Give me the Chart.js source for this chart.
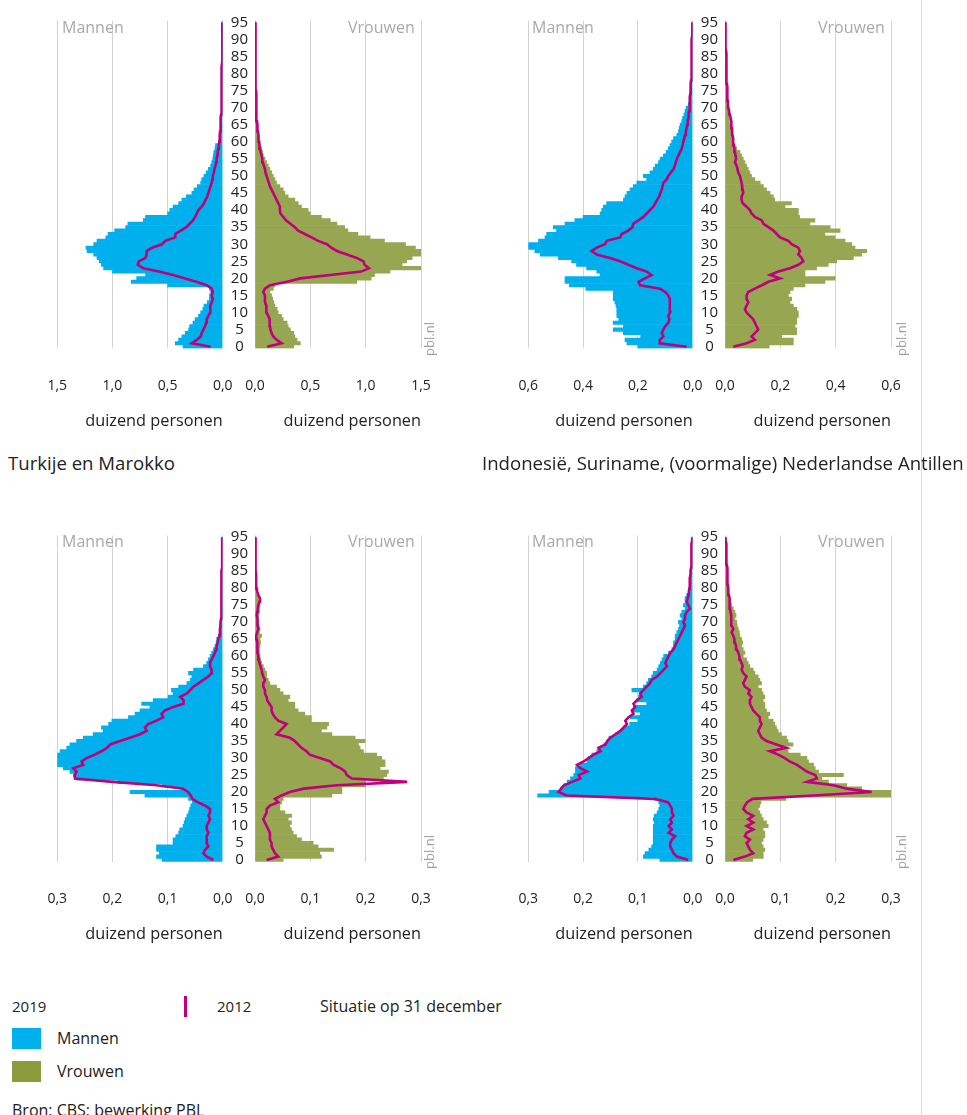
<!DOCTYPE html>
<html><head><meta charset="utf-8">
<script src="https://cdn.jsdelivr.net/npm/chart.js@4.4.1/dist/chart.umd.min.js"></script>
<style>
body{margin:0;width:967px;height:1115px;position:relative;overflow:hidden;background:#fff;font-family:"Open Sans",sans-serif;color:#222;}
.cv{position:absolute;}
.t{position:absolute;white-space:nowrap;line-height:20px;height:20px;}
.g{color:#a9a9a9;font-size:16px;}
.pbl{position:absolute;color:#a0a0a0;font-size:13px;line-height:14px;transform:rotate(-90deg);transform-origin:center center;white-space:nowrap;}
.sq{position:absolute;width:29px;height:21px;}
</style></head><body>
<div style="position:absolute;left:921px;top:0;width:1px;height:1115px;background:#dcdcdc;"></div>
<script>
// ---------- data (thousands of persons, ages 0..95) ----------
const ages = ['0','1','2','3','4','5','6','7','8','9','10','11','12','13','14','15','16','17','18','19','20','21','22','23','24','25','26','27','28','29','30','31','32','33','34','35','36','37','38','39','40','41','42','43','44','45','46','47','48','49','50','51','52','53','54','55','56','57','58','59','60','61','62','63','64','65','66','67','68','69','70','71','72','73','74','75','76','77','78','79','80','81','82','83','84','85','86','87','88','89','90','91','92','93','94','95'];
const ageTickLabels = ['0','5','10','15','20','25','30','35','40','45','50','55','60','65','70','75','80','85','90','95'];

// top-left panel
const tlMen2019 = [0.36,0.43,0.40,0.37,0.34,0.31,0.30,0.27,0.25,0.22, 0.20,0.18,0.17,0.14,0.12,0.12,0.11,0.12,0.50,0.83, 0.78,0.70,1.00,1.08,1.10,1.12,1.14,1.17,1.23,1.24, 1.17,1.14,1.06,1.04,0.98,0.88,0.86,0.72,0.70,0.50, 0.48,0.45,0.40,0.37,0.33,0.28,0.26,0.23,0.20,0.19, 0.17,0.15,0.13,0.11,0.10,0.09,0.085,0.08,0.07,0.065, 0.04,0.03,0.025,0.02,0.015,0.012,0.010,0.009,0.008,0.007, 0.006,0.005,0.005,0.004,0.004,0.004,0.003,0.003,0.003,0.003, 0.002,0.002,0.002,0.002,0.002,0.002,0.001,0.001,0.001,0.001, 0.001,0.001,0.001,0.001,0.001,0.001];
const tlMen2012 = [0.11,0.28,0.235,0.20,0.19,0.175,0.16,0.15,0.145,0.13, 0.115,0.115,0.11,0.10,0.09,0.10,0.09,0.10,0.145,0.24, 0.34,0.45,0.58,0.72,0.77,0.76,0.70,0.69,0.69,0.64, 0.55,0.52,0.43,0.43,0.38,0.33,0.30,0.27,0.25,0.235, 0.22,0.19,0.17,0.155,0.14,0.13,0.12,0.11,0.10,0.095, 0.09,0.08,0.075,0.065,0.06,0.055,0.05,0.045,0.04,0.035, 0.03,0.028,0.026,0.024,0.022,0.02,0.018,0.016,0.015,0.014, 0.013,0.012,0.012,0.011,0.011,0.010,0.010,0.009,0.009,0.008, 0.008,0.007,0.007,0.006,0.006,0.005,0.005,0.004,0.004,0.004, 0.003,0.003,0.003,0.002,0.002,0.002];
const tlWomen2019 = [0.35,0.41,0.38,0.36,0.35,0.32,0.30,0.29,0.255,0.24, 0.21,0.20,0.18,0.17,0.16,0.15,0.135,0.165,0.18,0.92, 1.05,1.08,1.22,1.51,1.33,1.37,1.42,1.55,1.51,1.45, 1.36,1.17,1.04,0.93,0.84,0.81,0.74,0.68,0.60,0.50, 0.48,0.42,0.39,0.36,0.30,0.27,0.255,0.225,0.195,0.18, 0.165,0.15,0.135,0.12,0.105,0.09,0.075,0.07,0.06,0.05, 0.045,0.038,0.03,0.025,0.02,0.015,0.012,0.010,0.009,0.008, 0.007,0.006,0.006,0.005,0.005,0.004,0.004,0.004,0.003,0.003, 0.003,0.003,0.002,0.002,0.002,0.002,0.002,0.001,0.001,0.001, 0.001,0.001,0.001,0.001,0.001,0.001];
const tlWomen2012 = [0.11,0.24,0.195,0.165,0.15,0.14,0.135,0.135,0.13,0.12, 0.105,0.105,0.10,0.09,0.09,0.09,0.075,0.09,0.135,0.29, 0.41,0.68,0.96,1.03,0.99,0.98,0.92,0.83,0.74,0.69, 0.65,0.57,0.51,0.45,0.39,0.36,0.32,0.28,0.255,0.23, 0.225,0.225,0.21,0.195,0.18,0.165,0.15,0.135,0.125,0.115, 0.105,0.095,0.09,0.08,0.07,0.066,0.06,0.05,0.045,0.04, 0.036,0.033,0.03,0.027,0.024,0.02,0.018,0.016,0.015,0.013, 0.012,0.011,0.011,0.010,0.010,0.009,0.009,0.008,0.008,0.007, 0.007,0.006,0.006,0.005,0.005,0.005,0.004,0.004,0.004,0.003, 0.003,0.003,0.003,0.002,0.002,0.002];

// top-right panel
const trMen2019 = [0.20,0.24,0.247,0.19,0.253,0.29,0.253,0.29,0.27,0.277, 0.277,0.277,0.28,0.284,0.29,0.29,0.29,0.39,0.45,0.466, 0.466,0.338,0.35,0.387,0.424,0.442,0.49,0.557,0.576,0.606, 0.60,0.563,0.539,0.533,0.497,0.509,0.466,0.43,0.40,0.338, 0.332,0.326,0.314,0.253,0.247,0.24,0.229,0.217,0.204,0.168, 0.18,0.156,0.144,0.137,0.125,0.119,0.107,0.097,0.089,0.083, 0.077,0.07,0.058,0.052,0.049,0.046,0.04,0.037,0.032,0.028, 0.024,0.016,0.010,0.009,0.008,0.007,0.006,0.005,0.005,0.004, 0.004,0.004,0.003,0.003,0.003,0.003,0.002,0.002,0.002,0.002, 0.002,0.001,0.001,0.001,0.001,0.001];
const trMen2012 = [0.022,0.12,0.12,0.107,0.113,0.107,0.10,0.089,0.085,0.089, 0.083,0.083,0.085,0.083,0.083,0.089,0.10,0.119,0.192,0.198, 0.174,0.15,0.168,0.204,0.235,0.265,0.302,0.35,0.369,0.35, 0.32,0.314,0.265,0.259,0.235,0.22,0.217,0.198,0.18,0.168, 0.156,0.144,0.137,0.13,0.122,0.118,0.113,0.11,0.107,0.095, 0.089,0.08,0.07,0.065,0.062,0.058,0.052,0.046,0.04,0.037, 0.034,0.031,0.028,0.025,0.022,0.02,0.018,0.016,0.015,0.013, 0.012,0.011,0.010,0.010,0.009,0.008,0.008,0.007,0.006,0.006, 0.005,0.005,0.005,0.004,0.004,0.004,0.004,0.003,0.003,0.003, 0.003,0.002,0.002,0.002,0.001,0.001];
const trWomen2019 = [0.16,0.247,0.247,0.205,0.259,0.259,0.253,0.259,0.259,0.265, 0.265,0.259,0.247,0.235,0.241,0.229,0.235,0.247,0.289,0.361, 0.398,0.289,0.289,0.331,0.373,0.404,0.464,0.494,0.512,0.47, 0.458,0.434,0.398,0.361,0.416,0.38,0.307,0.325,0.27,0.265, 0.265,0.217,0.24,0.18,0.175,0.163,0.15,0.139,0.127,0.108, 0.096,0.09,0.084,0.078,0.072,0.066,0.06,0.054,0.042,0.036, 0.03,0.028,0.026,0.024,0.021,0.018,0.016,0.014,0.012,0.010, 0.008,0.007,0.006,0.006,0.005,0.005,0.004,0.004,0.004,0.003, 0.003,0.003,0.003,0.002,0.002,0.002,0.002,0.002,0.001,0.001, 0.001,0.001,0.001,0.001,0.001,0.001];
const trWomen2012 = [0.03,0.078,0.108,0.096,0.108,0.12,0.114,0.108,0.102,0.09, 0.078,0.072,0.078,0.084,0.078,0.078,0.084,0.108,0.133,0.157, 0.199,0.163,0.193,0.235,0.265,0.283,0.277,0.265,0.271,0.265, 0.241,0.229,0.199,0.187,0.175,0.157,0.139,0.133,0.108,0.096, 0.09,0.078,0.064,0.06,0.06,0.066,0.064,0.062,0.06,0.057, 0.054,0.048,0.045,0.042,0.036,0.04,0.038,0.036,0.034,0.032, 0.03,0.029,0.027,0.026,0.025,0.024,0.022,0.02,0.018,0.015, 0.012,0.011,0.010,0.009,0.009,0.008,0.008,0.007,0.007,0.006, 0.006,0.005,0.005,0.005,0.004,0.004,0.004,0.003,0.003,0.003, 0.002,0.002,0.002,0.001,0.001,0.001];

// bottom-left panel: Turkije en Marokko
const blMen2019 = [0.11,0.12,0.115,0.12,0.12,0.09,0.09,0.085,0.08,0.078, 0.072,0.07,0.068,0.065,0.062,0.06,0.058,0.055,0.062,0.141, 0.168,0.075,0.11,0.19,0.265,0.271,0.277,0.289,0.307,0.316, 0.325,0.313,0.295,0.283,0.277,0.265,0.253,0.235,0.217,0.22, 0.207,0.201,0.171,0.159,0.15,0.132,0.147,0.126,0.099,0.09, 0.093,0.08,0.065,0.059,0.056,0.062,0.053,0.035,0.029,0.026, 0.023,0.02,0.017,0.014,0.012,0.011,0.008,0.005,0.004,0.004, 0.003,0.003,0.003,0.002,0.002,0.002,0.002,0.002,0.002,0.002, 0.001,0.001,0.001,0.001,0.001,0.001,0.001,0.001,0.001,0.001, 0.001,0.001,0.001,0.001,0.001,0.001];
const blMen2012 = [0.017,0.029,0.035,0.032,0.026,0.029,0.029,0.029,0.026,0.029, 0.029,0.026,0.023,0.026,0.023,0.023,0.032,0.045,0.055,0.058, 0.063,0.072,0.12,0.2,0.268,0.268,0.265,0.271,0.253,0.256, 0.247,0.232,0.22,0.21,0.204,0.186,0.168,0.15,0.138,0.141, 0.135,0.12,0.108,0.111,0.105,0.09,0.071,0.071,0.077,0.065, 0.059,0.053,0.044,0.035,0.026,0.02,0.02,0.023,0.023,0.02, 0.017,0.014,0.012,0.011,0.009,0.008,0.006,0.005,0.005,0.004, 0.004,0.003,0.003,0.003,0.003,0.003,0.002,0.002,0.002,0.002, 0.002,0.002,0.002,0.002,0.002,0.002,0.001,0.001,0.001,0.001, 0.001,0.001,0.001,0.001,0.001,0.001];
const blWomen2019 = [0.051,0.12,0.117,0.142,0.114,0.105,0.084,0.075,0.069,0.066, 0.063,0.066,0.06,0.066,0.054,0.045,0.045,0.048,0.051,0.139, 0.157,0.157,0.2,0.2,0.232,0.238,0.241,0.226,0.235,0.235, 0.229,0.22,0.196,0.19,0.187,0.199,0.181,0.139,0.12,0.13, 0.133,0.102,0.102,0.09,0.078,0.072,0.072,0.06,0.063,0.051, 0.045,0.039,0.027,0.024,0.021,0.021,0.018,0.015,0.012,0.01, 0.009,0.008,0.008,0.009,0.01,0.009,0.012,0.008,0.009,0.007, 0.006,0.006,0.007,0.008,0.008,0.009,0.009,0.006,0.005,0.004, 0.003,0.002,0.002,0.002,0.002,0.001,0.001,0.001,0.001,0.001, 0.001,0.001,0.001,0.001,0.001,0.001];
const blWomen2012 = [0.021,0.042,0.036,0.033,0.03,0.03,0.027,0.027,0.027,0.024, 0.021,0.018,0.015,0.018,0.021,0.021,0.027,0.042,0.036,0.048, 0.063,0.088,0.148,0.275,0.175,0.166,0.163,0.155,0.142,0.136, 0.117,0.099,0.093,0.084,0.078,0.072,0.063,0.039,0.045,0.051, 0.057,0.042,0.036,0.032,0.03,0.03,0.026,0.022,0.021,0.018, 0.018,0.015,0.015,0.018,0.015,0.013,0.012,0.01,0.008,0.007, 0.006,0.005,0.005,0.004,0.004,0.003,0.002,0.004,0.006,0.005, 0.005,0.004,0.003,0.004,0.005,0.006,0.008,0.009,0.006,0.004, 0.003,0.002,0.002,0.002,0.002,0.001,0.001,0.001,0.001,0.001, 0.001,0.001,0.001,0.001,0.001,0.001];

// bottom-right panel: Indonesie, Suriname, (voormalige) Nederlandse Antillen
const brMen2019 = [0.06,0.09,0.087,0.08,0.075,0.072,0.072,0.072,0.072,0.072, 0.072,0.07,0.072,0.07,0.065,0.062,0.06,0.062,0.07,0.283, 0.262,0.241,0.235,0.229,0.223,0.217,0.214,0.214,0.205,0.193, 0.19,0.184,0.175,0.168,0.162,0.156,0.153,0.141,0.132,0.126, 0.115,0.10,0.114,0.096,0.111,0.108,0.084,0.102,0.099,0.096, 0.111,0.09,0.084,0.081,0.075,0.072,0.065,0.062,0.059,0.056, 0.053,0.044,0.038,0.035,0.035,0.032,0.032,0.029,0.026,0.024, 0.026,0.02,0.023,0.02,0.014,0.017,0.014,0.014,0.011,0.008, 0.005,0.005,0.004,0.004,0.003,0.003,0.003,0.002,0.002,0.002, 0.002,0.002,0.001,0.001,0.001,0.001];
const brMen2012 = [0.008,0.029,0.035,0.038,0.041,0.041,0.038,0.032,0.044,0.038, 0.044,0.038,0.041,0.035,0.038,0.038,0.041,0.045,0.07,0.23, 0.245,0.24,0.235,0.22,0.205,0.208,0.193,0.205,0.211,0.199, 0.19,0.181,0.168,0.172,0.159,0.156,0.15,0.141,0.132,0.126, 0.12,0.123,0.117,0.108,0.111,0.105,0.108,0.102,0.093,0.096, 0.09,0.084,0.078,0.075,0.065,0.059,0.053,0.047,0.05,0.047, 0.044,0.041,0.035,0.032,0.029,0.026,0.023,0.02,0.017,0.014, 0.017,0.014,0.014,0.011,0.005,0.008,0.011,0.009,0.008,0.007, 0.006,0.006,0.005,0.005,0.004,0.004,0.003,0.003,0.003,0.002, 0.002,0.002,0.002,0.002,0.001,0.001];
const brWomen2019 = [0.05,0.069,0.069,0.072,0.069,0.066,0.069,0.072,0.072,0.069, 0.078,0.075,0.069,0.066,0.063,0.06,0.063,0.065,0.11,0.328, 0.325,0.247,0.22,0.187,0.175,0.214,0.169,0.163,0.16,0.151, 0.148,0.136,0.114,0.111,0.123,0.114,0.111,0.102,0.096,0.093, 0.09,0.087,0.078,0.081,0.075,0.072,0.072,0.069,0.072,0.069, 0.066,0.06,0.066,0.063,0.06,0.054,0.051,0.045,0.042,0.039, 0.033,0.036,0.033,0.03,0.032,0.03,0.027,0.026,0.024,0.022, 0.021,0.018,0.02,0.018,0.015,0.012,0.01,0.009,0.007,0.006, 0.005,0.005,0.004,0.004,0.004,0.003,0.003,0.003,0.002,0.002, 0.002,0.002,0.001,0.001,0.001,0.001];
const brWomen2012 = [0.015,0.036,0.051,0.045,0.042,0.039,0.045,0.036,0.039,0.051, 0.039,0.051,0.042,0.051,0.039,0.033,0.036,0.04,0.05,0.16, 0.265,0.22,0.196,0.148,0.166,0.163,0.148,0.139,0.13,0.117, 0.108,0.096,0.081,0.111,0.093,0.075,0.066,0.063,0.06,0.063, 0.066,0.063,0.063,0.057,0.051,0.048,0.045,0.045,0.048,0.042, 0.045,0.036,0.033,0.036,0.039,0.033,0.03,0.032,0.03,0.027, 0.026,0.024,0.021,0.02,0.018,0.017,0.015,0.012,0.015,0.012, 0.011,0.011,0.012,0.01,0.009,0.009,0.008,0.008,0.007,0.006, 0.006,0.005,0.005,0.005,0.004,0.004,0.004,0.003,0.003,0.003, 0.003,0.002,0.002,0.002,0.001,0.001];

const axisMaxTop = [1.5, 0.6];
const axisStepTop = [0.5, 0.2];
const axisMaxBottom = [0.3, 0.3];
const axisStepBottom = [0.1, 0.1];

// ---------- styling ----------
const BLUE = '#00b0ec', GREEN = '#97a650', MAGENTA = '#c0007a', GRID = '#d2d2d2', TXT = '#222';
const FONT = '"Open Sans", sans-serif';
const cols = [
  {menMaxX: 57.3, menZero: 222.7, womenZero: 255, womenMaxX: 421},
  {menMaxX: 528.3, menZero: 692.7, womenZero: 725, womenMaxX: 891}
];
const rows = [
  {canvasTop: 0, plotTop: 20.6, plotBottom: 348.4},
  {canvasTop: 514, plotTop: 535.5, plotBottom: 861.7}
];
const CANVAS_H = 445, XAXIS_H = 90;

const panels = [
  {col: 0, row: 0, men: tlMen2019, men12: tlMen2012, women: tlWomen2019, women12: tlWomen2012, max: axisMaxTop[0], step: axisStepTop[0]},
  {col: 1, row: 0, men: trMen2019, men12: trMen2012, women: trWomen2019, women12: trWomen2012, max: axisMaxTop[1], step: axisStepTop[1]},
  {col: 0, row: 1, men: blMen2019, men12: blMen2012, women: blWomen2019, women12: blWomen2012, max: axisMaxBottom[0], step: axisStepBottom[0]},
  {col: 1, row: 1, men: brMen2019, men12: brMen2012, women: brWomen2019, women12: brWomen2012, max: axisMaxBottom[1], step: axisStepBottom[1]}
];

const fmt = v => Math.abs(v).toFixed(1).replace('.', ',');

function makeCanvas(left, top, width, height) {
  const d = document.createElement('div');
  d.className = 'cv';
  d.style.left = left + 'px'; d.style.top = top + 'px';
  d.style.width = width + 'px'; d.style.height = height + 'px';
  const c = document.createElement('canvas');
  d.appendChild(c);
  document.body.appendChild(d);
  return c;
}

function xScale(min, max, step) {
  return {
    type: 'linear', min: min, max: max,
    grid: {color: ctx => (ctx.tick && Math.abs(ctx.tick.value) < 1e-9) ? 'rgba(0,0,0,0)' : GRID, lineWidth: 1,
           drawTicks: true, tickLength: 29, tickColor: 'rgba(0,0,0,0)'},
    border: {display: false},
    ticks: {stepSize: step, callback: v => fmt(v), color: TXT, font: {family: FONT, size: 14}, padding: 0, maxRotation: 0, autoSkip: false},
    title: {display: true, text: 'duizend personen', align: 'end', color: TXT, font: {family: FONT, size: 16.3}, padding: {top: 0, bottom: 7.4}},
    afterFit: s => { s.height = XAXIS_H; }
  };
}

panels.forEach(p => {
  const c = cols[p.col], r = rows[p.row];
  const padTop = r.plotTop - r.canvasTop;
  const padBottom = r.canvasTop + CANVAS_H - r.plotBottom - XAXIS_H;

  // men half (negative values, drawn to the left)
  const mL = Math.round(c.menMaxX - 27), mR = Math.round(c.menZero + 17);
  const mc = makeCanvas(mL, r.canvasTop, mR - mL, CANVAS_H);
  new Chart(mc, {
    data: {
      labels: ages,
      datasets: [
        {type: 'line', label: '2012', data: p.men12.map(v => -v), indexAxis: 'y', borderColor: MAGENTA, borderWidth: 2.6, pointRadius: 0, tension: 0, fill: false, order: 0},
        {type: 'bar', label: 'Mannen', data: p.men.map(v => -v), indexAxis: 'y', backgroundColor: BLUE, barPercentage: 1, categoryPercentage: 1, borderWidth: 0, order: 1}
      ]
    },
    options: {
      indexAxis: 'y', responsive: true, maintainAspectRatio: false, animation: false,
      layout: {padding: {left: c.menMaxX - mL, right: mR - c.menZero, top: padTop, bottom: padBottom}},
      plugins: {legend: {display: false}, tooltip: {enabled: false}},
      scales: {
        x: xScale(-p.max, 0, p.step),
        y: {type: 'category', reverse: true, display: false, grid: {display: false}}
      }
    }
  });

  // women half, with the age axis on its left
  const wL = Math.round(c.womenZero) - 32, wR = Math.round(c.womenMaxX + 27);
  const wc = makeCanvas(wL, r.canvasTop, wR - wL, CANVAS_H);
  const yW = c.womenZero - wL;
  new Chart(wc, {
    data: {
      labels: ages,
      datasets: [
        {type: 'line', label: '2012', data: p.women12, indexAxis: 'y', borderColor: MAGENTA, borderWidth: 2.6, pointRadius: 0, tension: 0, fill: false, order: 0},
        {type: 'bar', label: 'Vrouwen', data: p.women, indexAxis: 'y', backgroundColor: GREEN, barPercentage: 1, categoryPercentage: 1, borderWidth: 0, order: 1}
      ]
    },
    options: {
      indexAxis: 'y', responsive: true, maintainAspectRatio: false, animation: false,
      layout: {padding: {left: 0, right: wR - c.womenMaxX, top: padTop, bottom: padBottom}},
      plugins: {legend: {display: false}, tooltip: {enabled: false}},
      scales: {
        x: xScale(0, p.max, p.step),
        y: {
          type: 'category', reverse: true, position: 'left',
          grid: {display: false, drawTicks: false}, border: {display: false},
          ticks: {
            autoSkip: false, crossAlign: 'center', padding: 7, color: TXT, font: {family: FONT, size: 15},
            callback: function(value) { const lab = this.getLabelForValue(value); return ageTickLabels.includes(lab) ? lab : ''; }
          },
          afterFit: s => { s.width = yW; }
        }
      }
    }
  });
});
</script>

<!-- panel labels -->
<div class="t g" style="left:62px;top:17px;">Mannen</div>
<div class="t g" style="left:348px;top:17px;">Vrouwen</div>
<div class="t g" style="left:532px;top:17px;">Mannen</div>
<div class="t g" style="left:818px;top:17px;">Vrouwen</div>
<div class="t g" style="left:62px;top:531px;">Mannen</div>
<div class="t g" style="left:348px;top:531px;">Vrouwen</div>
<div class="t g" style="left:532px;top:531px;">Mannen</div>
<div class="t g" style="left:818px;top:531px;">Vrouwen</div>

<div class="pbl" style="left:412px;top:332px;">pbl.nl</div>
<div class="pbl" style="left:884px;top:332px;">pbl.nl</div>
<div class="pbl" style="left:412px;top:845px;">pbl.nl</div>
<div class="pbl" style="left:884px;top:845px;">pbl.nl</div>

<div class="t" style="left:8px;top:451px;font-size:18.6px;line-height:24px;height:24px;">Turkije en Marokko</div>
<div class="t" style="left:482px;top:451px;font-size:18.6px;line-height:24px;height:24px;">Indonesië, Suriname, (voormalige) Nederlandse Antillen</div>

<!-- legend -->
<div class="t" style="left:12px;top:996px;font-size:15px;">2019</div>
<div style="position:absolute;left:184px;top:996px;width:3px;height:21px;background:#c0007a;"></div>
<div class="t" style="left:217px;top:996px;font-size:15px;">2012</div>
<div class="t" style="left:320px;top:996px;font-size:16px;">Situatie op 31 december</div>
<div class="sq" style="left:12px;top:1028px;background:#00b0ec;"></div>
<div class="t" style="left:57px;top:1028px;font-size:16px;">Mannen</div>
<div class="sq" style="left:12px;top:1061px;background:#8c9b3c;"></div>
<div class="t" style="left:57px;top:1061px;font-size:16px;">Vrouwen</div>
<div class="t" style="left:12px;top:1100px;font-size:16px;">Bron: CBS; bewerking PBL</div>
</body></html>
